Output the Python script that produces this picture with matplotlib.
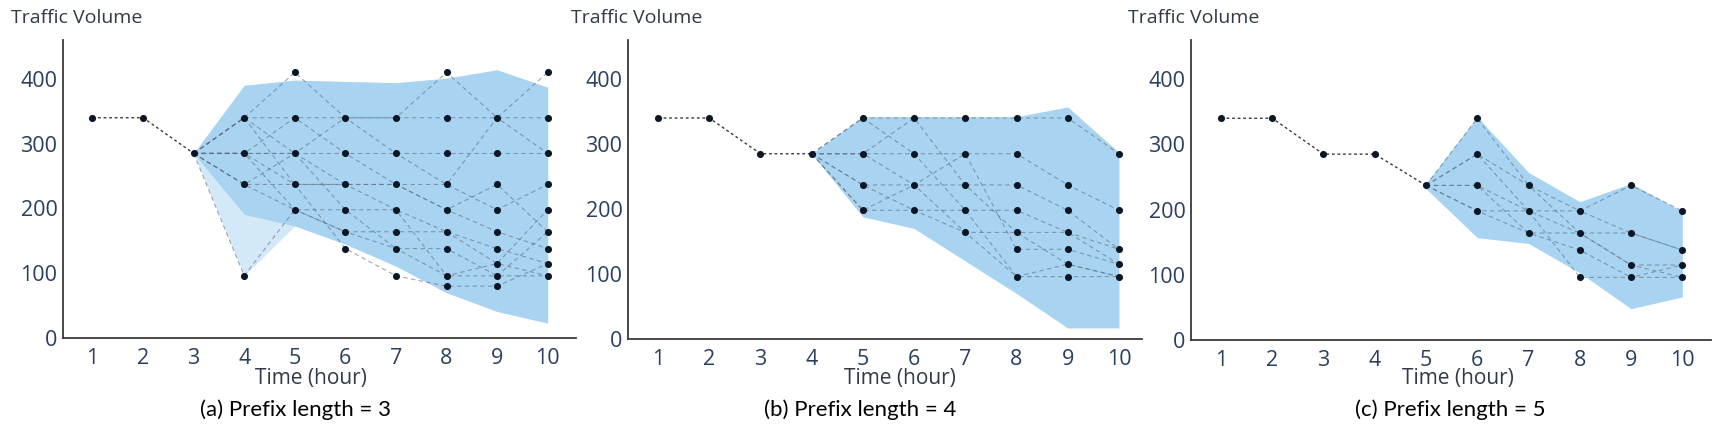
import numpy as np
import matplotlib.pyplot as plt

# observed prefix (hours 1..)
prefix_a = [340, 340, 285]
prefix_b = [340, 340, 285, 285]
prefix_c = [340, 340, 285, 285, 237]

# sampled continuations, each list starts at the last prefix hour
paths_a = [
    [285, 340, 410, 340, 340, 340, 340, 340],
    [285, 340, 340, 340, 340, 410, 340, 410],
    [285, 285, 285, 285, 285, 285, 285, 285],
    [285, 237, 237, 237, 237, 237, 340, 285],
    [285, 96, 198, 198, 198, 164, 138, 115],
    [285, 285, 340, 285, 237, 198, 164, 138],
    [285, 237, 198, 164, 164, 164, 115, 96],
    [285, 340, 285, 198, 138, 138, 96, 96],
    [285, 285, 237, 138, 96, 80, 80, 115],
    [285, 237, 285, 340, 285, 237, 198, 237],
    [285, 285, 198, 164, 138, 96, 96, 164],
    [285, 340, 237, 237, 198, 96, 115, 198],
    [285, 285, 285, 237, 237, 198, 237, 164],
]
paths_b = [
    [285, 340, 340, 340, 340, 340, 285],
    [285, 285, 285, 285, 285, 237, 198],
    [285, 237, 237, 237, 237, 198, 138],
    [285, 198, 198, 198, 198, 164, 115],
    [285, 285, 340, 237, 164, 164, 138],
    [285, 237, 198, 164, 164, 115, 96],
    [285, 198, 237, 285, 138, 138, 115],
    [285, 340, 285, 198, 96, 96, 96],
    [285, 285, 237, 164, 96, 115, 96],
]
paths_c = [
    [237, 340, 237, 198, 237, 198],
    [237, 285, 198, 164, 164, 138],
    [237, 237, 164, 164, 115, 115],
    [237, 198, 164, 138, 96, 96],
    [237, 237, 198, 96, 96, 115],
    [237, 285, 237, 164, 115, 96],
    [237, 198, 198, 198, 164, 138],
]

# shaded prediction band (same hours as the paths)
band_hi_a = [285, 390, 398, 396, 394, 401, 414, 387]
band_lo_a = [285, 191, 173, 145, 111, 70, 41, 23]
light_lo_a = [285, 96, 173, 145, 111, 70, 41, 23]
band_hi_b = [285, 342, 342, 342, 342, 357, 287]
band_lo_b = [285, 188, 170, 120, 70, 17, 17]
band_hi_c = [240, 342, 257, 212, 240, 197]
band_lo_c = [232, 157, 148, 103, 48, 66]

captions = ["(a) Prefix length = 3", "(b) Prefix length = 4", "(c) Prefix length = 5"]
hours = list(range(1, 11))
yticks = [0, 100, 200, 300, 400]

W, H = 1718, 440
fig = plt.figure(figsize=(W / 100, H / 100), dpi=100)

TXT = "#303a48"
TICK = "#2a3f5f"
DOT = "#0b1724"


def draw_panel(box, xlim, prefix, paths, hi, lo, light_lo, caption, title_x, xlab_x, cap_x):
    left, right, top, bottom = box
    ax = fig.add_axes([left / W, 1 - bottom / H, (right - left) / W, (bottom - top) / H])
    start = len(prefix)
    hrs = list(range(start, 11))

    if light_lo is not None:
        ax.fill_between(hrs, light_lo, hi, color="#d3e9f8", lw=0, zorder=1)
    ax.fill_between(hrs, lo, hi, color="#a8d4f2", lw=0, zorder=2)

    for p in paths:
        ax.plot(hrs, p, color="#5d6d7e", lw=0.8, alpha=0.6, dashes=(4, 3), zorder=3)
    ax.plot(hours[:start], prefix, color="#3a3a3a", lw=1.0, dashes=(2, 2), zorder=3)

    pts = set(zip(hours[:start], prefix))
    for p in paths:
        pts.update(zip(hrs, p))
    xs, ys = zip(*sorted(pts))
    ax.scatter(xs, ys, s=26, color=DOT, zorder=4, linewidths=0)

    ax.set_xlim(*xlim)
    ax.set_ylim(0, 460)
    ax.set_xticks(hours)
    ax.set_yticks(yticks)
    ax.tick_params(length=0, labelsize=15.5, labelcolor=TICK)
    ax.tick_params(axis="x", pad=7)
    ax.tick_params(axis="y", pad=4)
    for lab in ax.get_xticklabels() + ax.get_yticklabels():
        lab.set_fontfamily("Open Sans")
    for s in ["top", "right"]:
        ax.spines[s].set_visible(False)
    for s in ["left", "bottom"]:
        ax.spines[s].set_color("#3a3a3a")
        ax.spines[s].set_linewidth(1.3)

    fig.text(title_x / W, 1 - 18 / H, "Traffic Volume", fontsize=14, color=TXT,
             family="Open Sans", va="center", ha="left")
    fig.text(xlab_x / W, 1 - 378 / H, "Time (hour)", fontsize=15, color=TXT,
             family="Open Sans", va="center", ha="center")
    fig.text(cap_x / W, 1 - 410 / H, caption, fontsize=16, color="black",
             family="Lato", va="center", ha="center")
    return ax


draw_panel((63, 576, 40, 338), (0.417, 10.56), prefix_a, paths_a, band_hi_a, band_lo_a,
           light_lo_a, captions[0], 11, 311, 296)
draw_panel((628, 1142, 40, 339), (0.414, 10.45), prefix_b, paths_b, band_hi_b, band_lo_b,
           None, captions[1], 571, 900, 860)
draw_panel((1191, 1711, 40, 340), (0.415, 10.56), prefix_c, paths_c, band_hi_c, band_lo_c,
           None, captions[2], 1128, 1458, 1450)

fig.savefig("out.png", dpi=100)
